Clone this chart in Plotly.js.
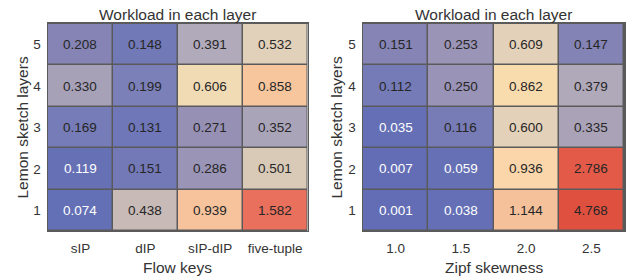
<!DOCTYPE html>
<html>
<head>
<meta charset="utf-8">
<script src="https://cdn.plot.ly/plotly-3.0.1.min.js"></script>
<style>html,body{margin:0;padding:0;background:#fff;}#chart{width:626px;height:278px;}</style>
</head>
<body>
<div id="chart"></div>
<script>
// ---- data ----
const layers = ["1", "2", "3", "4", "5"];
const flowKeys = ["sIP", "dIP", "sIP-dIP", "five-tuple"];
const zipfSkew = ["1.0", "1.5", "2.0", "2.5"];
// rows: layer 1 .. layer 5
const workloadFlowKeys = [
  [0.074, 0.438, 0.939, 1.582],
  [0.119, 0.151, 0.286, 0.501],
  [0.169, 0.131, 0.271, 0.352],
  [0.330, 0.199, 0.606, 0.858],
  [0.208, 0.148, 0.391, 0.532]
];
const workloadZipf = [
  [0.001, 0.038, 1.144, 4.768],
  [0.007, 0.059, 0.936, 2.786],
  [0.035, 0.116, 0.600, 0.335],
  [0.112, 0.250, 0.862, 0.379],
  [0.151, 0.253, 0.609, 0.147]
];
const chartTitle = "Workload in each layer";
const yTitle = "Lemon sketch layers";
const xTitleLeft = "Flow keys";
const xTitleRight = "Zipf skewness";

// ---- styles ----
const FONT = "Liberation Sans, Arial, sans-serif";
const TXT = "#333333";
const GRID = "#5a5a5a";
const scaleLeft = [
  [0.000, "#6470b5"], [0.030, "#6670b5"], [0.038, "#6f77b8"], [0.049, "#7279b7"],
  [0.083, "#7b80b8"], [0.089, "#8584b4"], [0.131, "#9690b5"], [0.170, "#a7a1b8"],
  [0.210, "#b0aabb"], [0.241, "#c7bab7"], [0.283, "#d9cab8"], [0.304, "#e2d1ba"],
  [0.353, "#f0dbb5"], [0.520, "#f7c69d"], [0.574, "#f6c39c"], [1.000, "#e8705c"]
];
const scaleRight = [
  [0.000, "#636db5"], [0.012, "#6570b5"], [0.0233, "#757bb6"], [0.0315, "#8584b5"],
  [0.0522, "#9993b7"], [0.070, "#aaa3b7"], [0.0793, "#b0a9b9"], [0.1257, "#e3d1b9"],
  [0.1806, "#f9dcae"], [0.1962, "#fad6aa"], [0.2398, "#f5c19b"], [0.5842, "#e45a48"],
  [1.000, "#e0503f"]
];

function hexRgb(h) { return [1, 3, 5].map(i => parseInt(h.substr(i, 2), 16)); }
function colorAt(scale, t) {
  for (let k = 1; k < scale.length; k++) {
    if (t <= scale[k][0]) {
      const a = scale[k - 1], b = scale[k];
      const f = (t - a[0]) / (b[0] - a[0] || 1);
      const ca = hexRgb(a[1]), cb = hexRgb(b[1]);
      return ca.map((v, i) => v + (cb[i] - v) * f);
    }
  }
  return hexRgb(scale[scale.length - 1][1]);
}

// category axes: annotation positions use category serial numbers
function cellAnnotations(z, scale, xref, yref) {
  const flat = z.flat();
  const mn = Math.min(...flat), mx = Math.max(...flat);
  const out = [];
  z.forEach((row, i) => row.forEach((v, j) => {
    const c = colorAt(scale, (v - mn) / (mx - mn));
    const lum = 0.299 * c[0] + 0.587 * c[1] + 0.114 * c[2];
    out.push({
      x: j, y: i, xref: xref, yref: yref, text: v.toFixed(3),
      showarrow: false, font: { family: FONT, size: 13.5, color: lum < 121 ? "#ffffff" : "#262626" }
    });
  }));
  return out;
}

const traces = [
  { type: "heatmap", x: flowKeys, y: layers, z: workloadFlowKeys, colorscale: scaleLeft,
    showscale: false, xgap: 1.5, ygap: 1.5, xaxis: "x", yaxis: "y", hoverinfo: "skip" },
  { type: "heatmap", x: zipfSkew, y: layers, z: workloadZipf, colorscale: scaleRight,
    showscale: false, xgap: 1.5, ygap: 1.5, xaxis: "x2", yaxis: "y2", hoverinfo: "skip" }
];

const yDom = [0.1691, 0.9137];
function xax(dom, anchor, cats) {
  return { domain: dom, anchor: anchor, type: "category", categoryorder: "array", categoryarray: cats,
    showgrid: false, zeroline: false,
    showline: true, mirror: true, linecolor: GRID, linewidth: 1.5,
    ticks: "outside", ticklen: 4, tickcolor: "rgba(0,0,0,0)",
    tickfont: { family: FONT, size: 13.5, color: TXT }, fixedrange: true };
}
function yax(anchor) {
  return { domain: yDom, anchor: anchor, type: "category", categoryorder: "array", categoryarray: layers,
    showgrid: false, zeroline: false,
    showline: true, mirror: true, linecolor: GRID, linewidth: 1.5,
    ticks: "outside", ticklen: 3, tickcolor: "rgba(0,0,0,0)",
    tickfont: { family: FONT, size: 13.5, color: TXT }, fixedrange: true };
}

const titleFont = { family: FONT, size: 15.5, color: TXT };
const annotations = [
  { text: chartTitle, x: 177.5 / 626, y: 1 - 14 / 278, xref: "paper", yref: "paper", showarrow: false, font: titleFont, xanchor: "center", yanchor: "middle" },
  { text: chartTitle, x: 493.5 / 626, y: 1 - 14 / 278, xref: "paper", yref: "paper", showarrow: false, font: titleFont, xanchor: "center", yanchor: "middle" },
  { text: xTitleLeft, x: 177.5 / 626, y: 1 - 267 / 278, xref: "paper", yref: "paper", showarrow: false, font: titleFont, xanchor: "center", yanchor: "middle" },
  { text: xTitleRight, x: 493.5 / 626, y: 1 - 267 / 278, xref: "paper", yref: "paper", showarrow: false, font: titleFont, xanchor: "center", yanchor: "middle" },
  { text: yTitle, x: 22 / 626, y: 1 - 127.5 / 278, xref: "paper", yref: "paper", showarrow: false, font: titleFont, textangle: -90, xanchor: "center", yanchor: "middle" },
  { text: yTitle, x: 336 / 626, y: 1 - 127.5 / 278, xref: "paper", yref: "paper", showarrow: false, font: titleFont, textangle: -90, xanchor: "center", yanchor: "middle" }
].concat(
  cellAnnotations(workloadFlowKeys, scaleLeft, "x", "y"),
  cellAnnotations(workloadZipf, scaleRight, "x2", "y2")
);

const layout = {
  width: 626, height: 278,
  margin: { l: 0, r: 0, t: 0, b: 0 },
  paper_bgcolor: "#ffffff", plot_bgcolor: GRID,
  showlegend: false,
  xaxis: xax([48 / 626, 307.5 / 626], "y", flowKeys),
  yaxis: yax("x"),
  xaxis2: xax([363 / 626, 624 / 626], "y2", zipfSkew),
  yaxis2: yax("x2"),
  annotations: annotations,
  font: { family: FONT, color: TXT }
};

Plotly.newPlot("chart", traces, layout, { staticPlot: true, displayModeBar: false });
</script>
</body>
</html>
